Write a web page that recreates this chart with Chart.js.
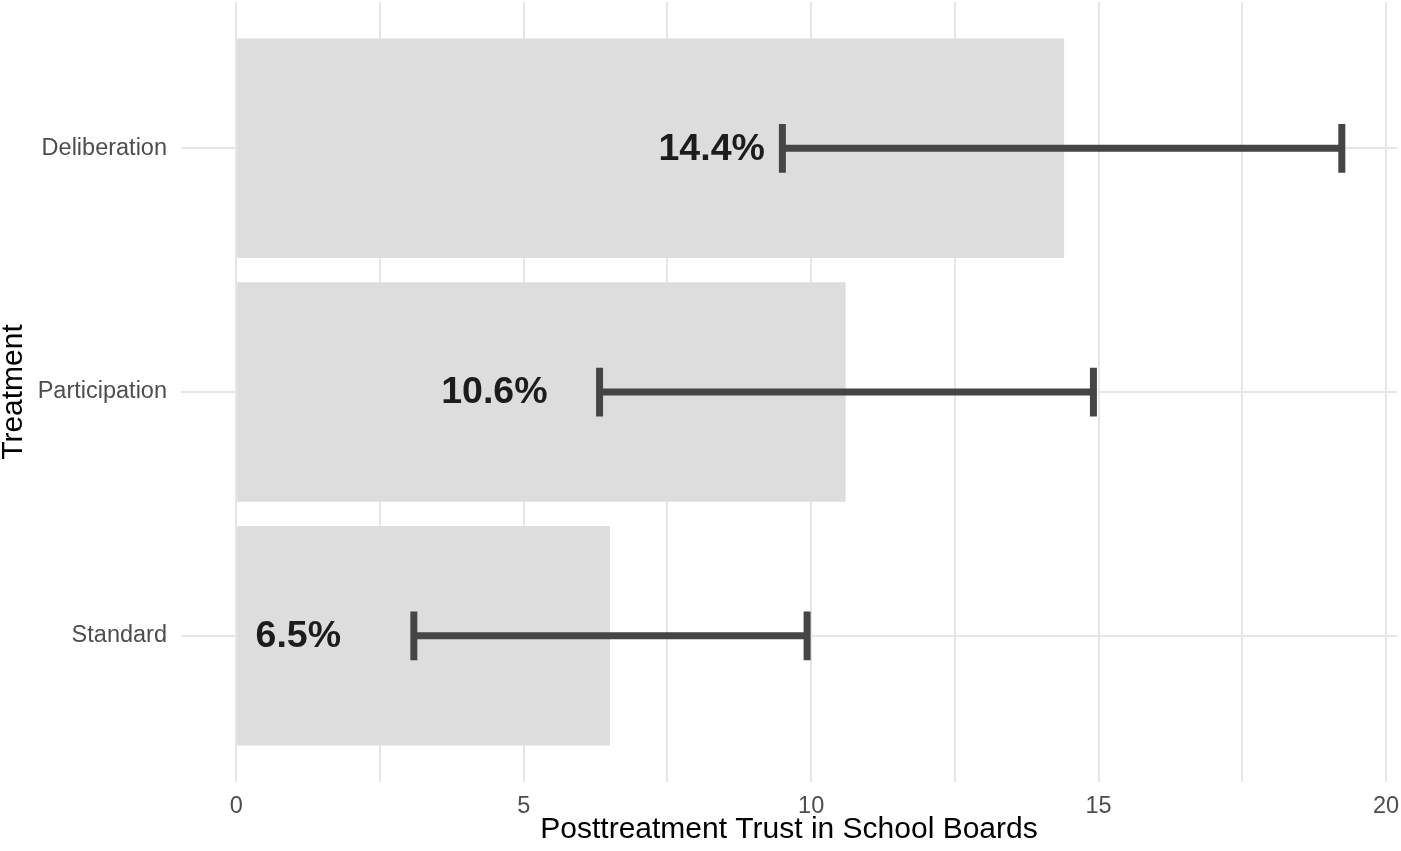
<!DOCTYPE html>
<html>
<head>
<meta charset="utf-8">
<script src="https://cdn.jsdelivr.net/npm/chart.js@4"></script>
<style>
  html, body { margin: 0; padding: 0; background: #ffffff; }
  #wrap { width: 1401px; height: 851px; }
</style>
</head>
<body>
<div id="wrap"><canvas id="trust-canvas"></canvas></div>
<script>
// data
var treatments = ['Deliberation', 'Participation', 'Standard'];
var trustValues = [14.4, 10.6, 6.5];
var ciLower = [9.5, 6.32, 3.09];
var ciUpper = [19.23, 14.91, 9.93];
var valueLabels = ['14.4%', '10.6%', '6.5%'];
var labelAt = [8.27, 4.49, 1.08];
var xTicks = [0, 2.5, 5, 7.5, 10, 12.5, 15, 17.5, 20];

document.addEventListener('DOMContentLoaded', function() {
    var ctx = document.getElementById('trust-canvas').getContext('2d');
    var font = 'Liberation Sans, Arial, Helvetica, sans-serif';

    // error bars and the bold percent labels
    var errorBars = {
        id: 'errorBars',
        afterDatasetsDraw: function(chart) {
            var c = chart.ctx;
            var xs = chart.scales.x;
            var ys = chart.scales.y;
            var capHalf = Math.abs(ys.getPixelForValue(2) - ys.getPixelForValue(1)) * 0.1;
            c.save();
            for (var i = 0; i < treatments.length; i++) {
                var yc = ys.getPixelForValue(i + 1);
                var x0 = xs.getPixelForValue(ciLower[i]);
                var x1 = xs.getPixelForValue(ciUpper[i]);
                c.strokeStyle = '#454545';
                c.lineWidth = 7;
                c.beginPath();
                c.moveTo(x0, yc);
                c.lineTo(x1, yc);
                c.moveTo(x0, yc - capHalf);
                c.lineTo(x0, yc + capHalf);
                c.moveTo(x1, yc - capHalf);
                c.lineTo(x1, yc + capHalf);
                c.stroke();

                c.fillStyle = '#1c1c1c';
                c.font = 'bold 37.5px ' + font;
                c.textAlign = 'center';
                c.textBaseline = 'middle';
                c.fillText(valueLabels[i], xs.getPixelForValue(labelAt[i]), yc + 1);
            }
            c.restore();
        }
    };

    var points = trustValues.map(function(v, i) { return { x: v, y: i + 1 }; });

    new Chart(ctx, {
        type: 'bar',
        data: {
            datasets: [{
                data: points,
                backgroundColor: '#dddddd',
                borderWidth: 0,
                categoryPercentage: 1,
                barPercentage: 0.9
            }]
        },
        options: {
            indexAxis: 'y',
            responsive: true,
            maintainAspectRatio: false,
            animation: false,
            layout: { padding: { top: 2, right: 4, left: 0, bottom: 0 } },
            plugins: {
                legend: { display: false },
                tooltip: { enabled: false }
            },
            scales: {
                x: {
                    type: 'linear',
                    min: -0.96,
                    max: 20.19,
                    afterBuildTicks: function(scale) {
                        scale.ticks = xTicks.map(function(v) { return { value: v }; });
                    },
                    afterFit: function(scale) {
                        scale.height = 69;
                        scale.paddingLeft = 0;
                        scale.paddingRight = 0;
                    },
                    grid: { color: '#e6e6e6', lineWidth: 2, drawTicks: false },
                    border: { display: false },
                    ticks: {
                        padding: 10,
                        color: '#4d4d4d',
                        font: { family: font, size: 23.5 },
                        maxRotation: 0,
                        autoSkip: false,
                        callback: function(v) { return v % 5 === 0 ? String(v) : ''; }
                    },
                    title: {
                        display: true,
                        text: 'Posttreatment Trust in School Boards',
                        color: '#000000',
                        font: { family: font, size: 30, lineHeight: 1.2 },
                        padding: { top: 0, bottom: 3 }
                    }
                },
                y: {
                    type: 'linear',
                    reverse: true,
                    offset: false,
                    min: 0.4,
                    max: 3.6,
                    afterBuildTicks: function(scale) {
                        scale.ticks = treatments.map(function(t, i) { return { value: i + 1 }; });
                    },
                    afterFit: function(scale) {
                        scale.width = 181;
                        scale.paddingTop = 0;
                        scale.paddingBottom = 0;
                    },
                    grid: { color: '#e6e6e6', lineWidth: 2, drawTicks: false, offset: false },
                    border: { display: false },
                    ticks: {
                        padding: 14,
                        color: '#4d4d4d',
                        font: { family: font, size: 23.5 },
                        autoSkip: false,
                        callback: function(v) { return treatments[v - 1]; }
                    },
                    title: {
                        display: true,
                        text: 'Treatment',
                        color: '#000000',
                        font: { family: font, size: 30, lineHeight: 0.9 },
                        padding: 0
                    }
                }
            }
        },
        plugins: [errorBars]
    });
});
</script>
</body>
</html>
